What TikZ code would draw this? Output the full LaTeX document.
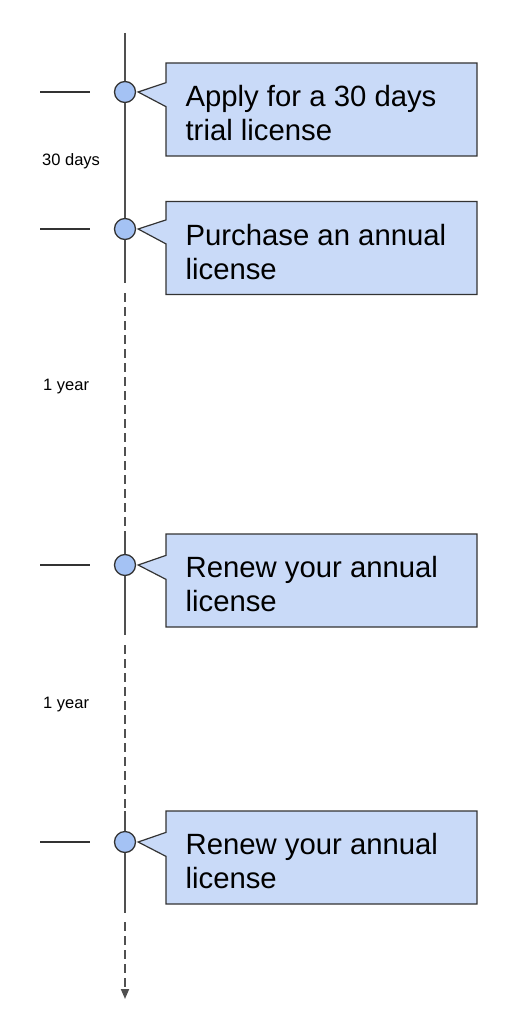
\documentclass[tikz,border=0pt]{standalone}
\usepackage{fontspec}
\setmainfont{Liberation Sans}
\usepackage{tikz}
\usetikzlibrary{arrows.meta,shapes.callouts}

\definecolor{boxblue}{HTML}{C9DAF8}
\definecolor{dotblue}{HTML}{A4C2F4}
\definecolor{edgegray}{HTML}{333333}
\definecolor{linegray}{HTML}{505050}

\begin{document}
\begin{tikzpicture}[x=1pt,y=-1pt,
        dot/.style={circle,draw=edgegray,fill=dotblue,line width=1.3pt,
                    minimum size=21pt,inner sep=0pt},
        note/.style={rectangle callout,draw=edgegray,fill=boxblue,line width=1.2pt,
                     minimum width=311pt,minimum height=93pt,inner sep=0pt,
                     callout pointer width=24pt},
        notetext/.style={anchor=north west,inner sep=0pt,align=left,
                         font=\fontsize{29.3}{34}\selectfont},
        tick/.style={draw=edgegray,line width=1.1pt},
        axis/.style={draw=linegray,line width=1.8pt},
        gap/.style={axis,dash pattern=on 9pt off 5pt},
        period/.style={anchor=west,inner sep=0pt,font=\fontsize{16.5}{20}\selectfont}]

    \useasboundingbox (0,0) rectangle (526,1024);

    % events on the time line
    \node[dot] (d1) at (125,92) {};
    \node[dot] (d2) at (125,229) {};
    \node[dot] (d3) at (125,565) {};
    \node[dot] (d4) at (125,842) {};

    % call outs
    \node[note,callout absolute pointer={([xshift=2pt]d1.east)}] (c1) at (321.5,109.5) {};
    \node[note,callout absolute pointer={([xshift=2pt]d2.east)}] (c2) at (321.5,248) {};
    \node[note,callout absolute pointer={([xshift=2pt]d3.east)}] (c3) at (321.5,580.5) {};
    \node[note,callout absolute pointer={([xshift=2pt]d4.east)}] (c4) at (321.5,857.5) {};

    \node[notetext] (t1) at ([shift={(20pt,-23pt)}]c1.north west) {Apply for a 30 days\\trial license};
    \node[notetext] (t2) at ([shift={(20pt,-23pt)}]c2.north west) {Purchase an annual\\license};
    \node[notetext] (t3) at ([shift={(20pt,-23pt)}]c3.north west) {Renew your annual\\license};
    \node[notetext] (t4) at ([shift={(20pt,-23pt)}]c4.north west) {Renew your annual\\license};

    % time line
    \coordinate (top) at (125,33);
    \coordinate (a1) at (125,283);
    \coordinate (b1) at (125,293);
    \coordinate (e1) at (125,533);
    \coordinate (a2) at (125,635);
    \coordinate (b2) at (125,645);
    \coordinate (e2) at (125,811);
    \coordinate (a3) at (125,913);
    \coordinate (b3) at (125,922);
    \coordinate (end) at (125,999);

    \draw[axis] (top) -- (d1.north);
    \draw[axis] (d1.south) -- (d2.north);
    \draw[axis] (d2.south) -- (a1);
    \draw[gap] (b1) -- (e1);
    \draw[axis] (e1) -- (d3.north);
    \draw[axis] (d3.south) -- (a2);
    \draw[gap] (b2) -- (e2);
    \draw[axis] (e2) -- (d4.north);
    \draw[axis] (d4.south) -- (a3);
    \draw[gap,-{Triangle[width=8pt,length=10pt]}] (b3) -- (end);

    % ticks
    \foreach \d in {d1,d2,d3,d4}
        \draw[tick] ([xshift=-24pt]\d.west) -- ([xshift=-74pt]\d.west);

    % periods
    \node[period] (p1) at (42,161.5) {30 days};
    \node[period] (p2) at (43,387) {1 year};
    \node[period] (p3) at (43,705) {1 year};
\end{tikzpicture}
\end{document}
